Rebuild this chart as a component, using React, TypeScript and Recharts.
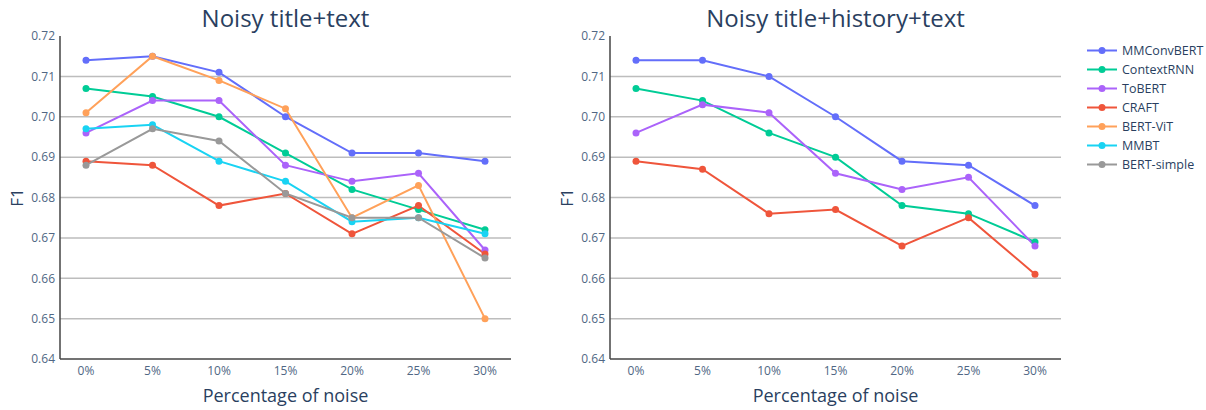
import React from "react"
import { LineChart, XAxis, YAxis, CartesianGrid, Line, Label } from "recharts"

const noise = ["0%", "5%", "10%", "15%", "20%", "25%", "30%"]
const yTicks = [0.64, 0.65, 0.66, 0.67, 0.68, 0.69, 0.7, 0.71, 0.72]
const gridValues = [0.65, 0.66, 0.67, 0.68, 0.69, 0.7, 0.71]

const modelNames = ["MMConvBERT", "ContextRNN", "ToBERT", "CRAFT", "BERT-ViT", "MMBT", "BERT-simple"]
const modelColors = ["#636efa", "#00cc96", "#ab63fa", "#ef553b", "#ffa15a", "#19d3f3", "#999999"]

// Noisy title+text
const textMMConvBERT = [0.714, 0.715, 0.711, 0.7, 0.691, 0.691, 0.689]
const textContextRNN = [0.707, 0.705, 0.7, 0.691, 0.682, 0.677, 0.672]
const textToBERT = [0.696, 0.704, 0.704, 0.688, 0.684, 0.686, 0.667]
const textCRAFT = [0.689, 0.688, 0.678, 0.681, 0.671, 0.678, 0.666]
const textBERTViT = [0.701, 0.715, 0.709, 0.702, 0.675, 0.683, 0.65]
const textMMBT = [0.697, 0.698, 0.689, 0.684, 0.674, 0.675, 0.671]
const textBERTSimple = [0.688, 0.697, 0.694, 0.681, 0.675, 0.675, 0.665]

// Noisy title+history+text
const histMMConvBERT = [0.714, 0.714, 0.71, 0.7, 0.689, 0.688, 0.678]
const histContextRNN = [0.707, 0.704, 0.696, 0.69, 0.678, 0.676, 0.669]
const histToBERT = [0.696, 0.703, 0.701, 0.686, 0.682, 0.685, 0.668]
const histCRAFT = [0.689, 0.687, 0.676, 0.677, 0.668, 0.675, 0.661]

const textSeries = [textMMConvBERT, textContextRNN, textToBERT, textCRAFT, textBERTViT, textMMBT, textBERTSimple]
const histSeries = [histMMConvBERT, histContextRNN, histToBERT, histCRAFT]

const font = "'Open Sans', sans-serif"
const textColor = "#2a3f5f"

function buildRows(series: number[][]) {
    return noise.map((n, i) => {
        const row: Record<string, string | number> = { noise: n }
        series.forEach((s, k) => { row[modelNames[k]] = s[i] })
        return row
    })
}

type PanelProps = {
    title: string
    series: number[][]
    left: number
}

function Panel(props: PanelProps) {
    const rows = buildRows(props.series)
    const plotLeft = 60
    const plotWidth = 451
    return (
        <div style={{ position: "absolute", left: props.left, top: 0, width: 540, height: 410 }}>
            <div style={{
                position: "absolute", left: plotLeft, width: plotWidth, top: 3, textAlign: "center",
                fontFamily: font, fontSize: 24, lineHeight: "30px", color: textColor
            }}>{props.title}</div>
            <LineChart
                width={540}
                height={410}
                data={rows}
                margin={{ top: 36, right: 540 - plotLeft - plotWidth, left: 0, bottom: 21 }}
                style={{ fontFamily: font }}
            >
                <CartesianGrid horizontal vertical={false} horizontalValues={gridValues} stroke="#bdbdbd" strokeWidth={1.5} />
                <XAxis
                    dataKey="noise"
                    height={30}
                    padding={{ left: 26, right: 26 }}
                    tickLine={false}
                    tickSize={0}
                    tickMargin={7}
                    axisLine={{ stroke: "#444", strokeWidth: 1.5 }}
                    tick={{ fill: "#506784", fontSize: 12 }}
                >
                    <Label value="Percentage of noise" position="insideBottom" offset={-13}
                        style={{ fill: textColor, fontSize: 18, fontFamily: font }} />
                </XAxis>
                <YAxis
                    width={plotLeft}
                    domain={[0.64, 0.72]}
                    ticks={yTicks}
                    interval={0}
                    allowDataOverflow
                    tickFormatter={(v: number) => v.toFixed(2)}
                    tickLine={false}
                    tickSize={0}
                    tickMargin={5}
                    axisLine={{ stroke: "#444", strokeWidth: 1.5 }}
                    tick={{ fill: "#506784", fontSize: 12 }}
                >
                    <Label value="F1" angle={-90} position="insideLeft" offset={17}
                        style={{ fill: textColor, fontSize: 17, fontFamily: font, textAnchor: "middle" }} />
                </YAxis>
                {props.series.map((_, k) => (
                    <Line
                        key={modelNames[k]}
                        dataKey={modelNames[k]}
                        type="linear"
                        stroke={modelColors[k]}
                        strokeWidth={2}
                        dot={{ r: 3.5, fill: modelColors[k], stroke: modelColors[k], strokeWidth: 0 }}
                        activeDot={false}
                        isAnimationActive={false}
                    />
                ))}
            </LineChart>
        </div>
    )
}

function FigureLegend() {
    return (
        <svg style={{ position: "absolute", left: 1080, top: 38 }} width={126} height={140}>
            {modelNames.map((name, k) => {
                const y = 12.5 + k * 19
                return (
                    <g key={name}>
                        <line x1={7} x2={37} y1={y} y2={y} stroke={modelColors[k]} strokeWidth={2} />
                        <circle cx={22} cy={y} r={3.5} fill={modelColors[k]} />
                        <text x={42} y={y} dominantBaseline="central" fontFamily={font} fontSize={12.5} fill={textColor}>{name}</text>
                    </g>
                )
            })}
        </svg>
    )
}

export default function App() {
    return (
        <div style={{ position: "absolute", left: 0, top: 0, width: 1206, height: 410, background: "#fff" }}>
            <Panel title="Noisy title+text" series={textSeries} left={0} />
            <Panel title="Noisy title+history+text" series={histSeries} left={550} />
            <FigureLegend />
        </div>
    )
}
